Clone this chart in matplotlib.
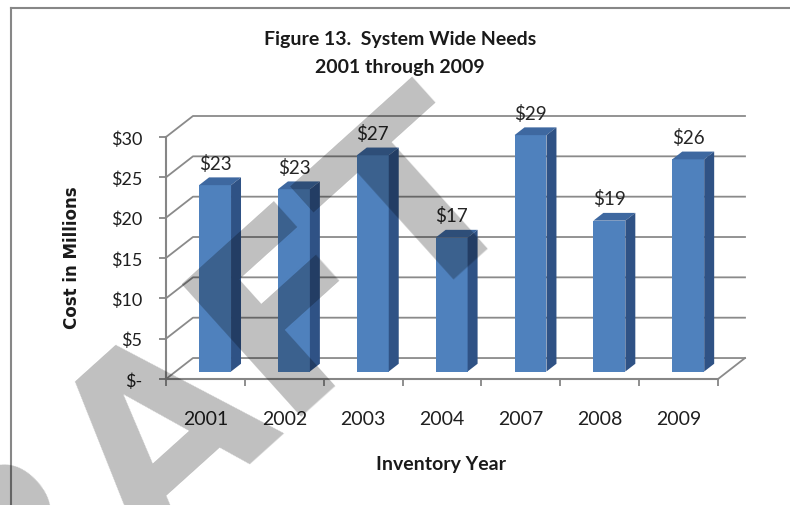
import matplotlib
matplotlib.use('Agg')
import matplotlib.pyplot as plt
from matplotlib.patches import Polygon
from matplotlib.lines import Line2D

# Chart data
years = ['2001', '2002', '2003', '2004', '2007', '2008', '2009']
costs = [23.1, 22.6, 26.8, 16.6, 29.3, 18.7, 26.3]
y_ticks = [0, 5, 10, 15, 20, 25, 30]
y_tick_labels = ['$-', '$5', '$10', '$15', '$20', '$25', '$30']

W, H = 790, 506
fig = plt.figure(figsize=(W / 100, H / 100), dpi=100, facecolor='white')

def fx(x):
    return x / W

def fy(y):
    return 1 - y / H

# oblique depth of the 3D box, in data units
DX, DY = 0.342, 2.6
n = len(years)

ax = fig.add_axes([fx(166), fy(380), (745 - 166) / W, (380 - 117) / H])
ax.set_xlim(0, n + DX)
ax.set_ylim(0, 30 + DY)
ax.set_facecolor('none')

grid_c = '#8a8a8a'
for v in y_ticks:
    ax.plot([0, DX, n + DX], [v, v + DY, v + DY], color=grid_c, lw=1.3, zorder=1, clip_on=False)
# right edge of the floor
ax.plot([n, n + DX], [0, DY], color=grid_c, lw=1.3, zorder=1, clip_on=False)

for s in ['top', 'right']:
    ax.spines[s].set_visible(False)
for s in ['left', 'bottom']:
    ax.spines[s].set_color('#868686')
    ax.spines[s].set_linewidth(1.5)
ax.spines['left'].set_bounds(0, 30)
ax.spines['bottom'].set_bounds(0, n)

ax.set_yticks(y_ticks)
ax.set_yticklabels(y_tick_labels, family='Lato', fontsize=13, color='#1f1f1f')
ax.tick_params(axis='y', length=5, width=1.3, color='#868686', pad=12)

ax.set_xticks(range(n + 1))
ax.set_xticklabels([])
ax.set_xticks([i + 0.5 for i in range(n)], minor=True)
ax.set_xticklabels(years, minor=True, family='Lato', fontsize=14, color='#1f1f1f')
ax.tick_params(axis='x', which='major', length=5, width=1.3, color='#868686')
ax.tick_params(axis='x', which='minor', length=0, pad=22)

# 3D columns
front_c, top_c, side_c = '#4f81bd', '#3e68a0', '#2f5285'
bw = 0.405
f1, fd = 0.357, 0.37
b0 = f1 * DY
ddx, ddy = fd * DX, fd * DY
centers = [i + 0.5 + f1 * DX for i in range(n)]
ax.bar(centers, costs, width=bw, bottom=b0, color=front_c, zorder=3, clip_on=False)
for xc, v in zip(centers, costs):
    x0, x1, yt = xc - bw / 2, xc + bw / 2, b0 + v
    ax.add_patch(Polygon([(x0, yt), (x1, yt), (x1 + ddx, yt + ddy), (x0 + ddx, yt + ddy)],
                         closed=True, fc=top_c, ec='none', zorder=3, clip_on=False))
    ax.add_patch(Polygon([(x1, b0), (x1 + ddx, b0 + ddy), (x1 + ddx, yt + ddy), (x1, yt)],
                         closed=True, fc=side_c, ec='none', zorder=3, clip_on=False))
    ax.annotate(f'${v:.0f}', xy=(xc, yt), xytext=(0, 16), textcoords='offset points',
                ha='center', va='center', family='Lato', fontsize=13.5, color='#262626',
                annotation_clip=False)

# titles
fig.text(fx(400), fy(40), 'Figure 13.  System Wide Needs', ha='center', va='center',
         family='Lato', fontweight='bold', fontsize=14, color='#1a1a1a')
fig.text(fx(400), fy(68), '2001 through 2009', ha='center', va='center',
         family='Lato', fontweight='bold', fontsize=14, color='#1a1a1a')
fig.text(fx(72), fy(258), 'Cost in Millions', rotation=90, ha='center', va='center',
         family='DejaVu Sans', fontweight='bold', fontsize=12, color='#1a1a1a')
fig.text(fx(441), fy(465), 'Inventory Year', ha='center', va='center',
         family='Lato', fontweight='bold', fontsize=14, color='#1a1a1a')

# chart area border
fig.add_artist(Line2D([fx(11), fx(11)], [fy(9), 0], color='#878787', lw=1.5))
fig.add_artist(Line2D([fx(11), 1], [fy(9), fy(9)], color='#878787', lw=1.5))

# watermark
fig.text(fx(188), fy(499), 'DRAFT', rotation=42, rotation_mode='anchor', ha='center',
         va='baseline', family='DejaVu Sans', fontweight='bold', fontsize=176,
         color='black', alpha=0.25, zorder=10)

fig.savefig('out.png', dpi=100, facecolor='white')
